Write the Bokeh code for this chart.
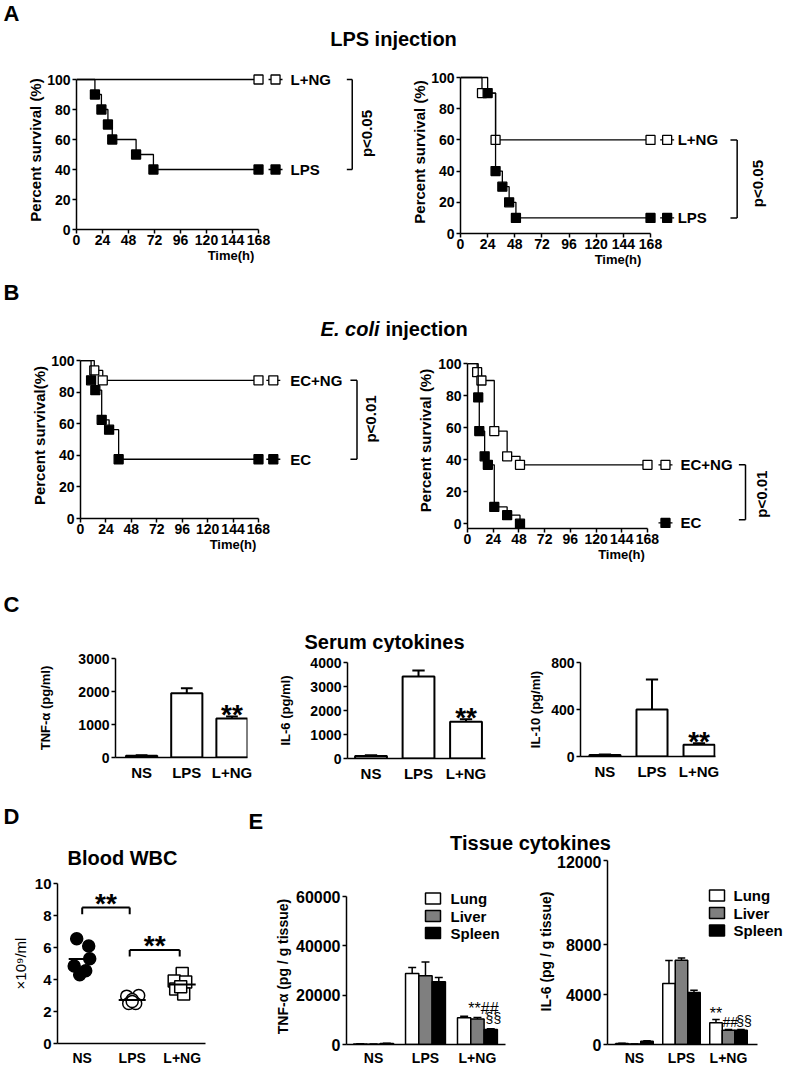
import numpy as np
from bokeh.plotting import figure
from bokeh.models import Range1d, FixedTicker
from bokeh.layouts import column, row
from bokeh.core.properties import value
from bokeh.embed import file_html
from bokeh.resources import INLINE

F = "Liberation Sans"

# ---------------- data ----------------
time_ticks = [0, 24, 48, 72, 96, 120, 144, 168]
surv_ticks = [0, 20, 40, 60, 80, 100]

# A: LPS injection, experiment 1
a1_ng_t = [0, 168]
a1_ng_s = [100, 100]
a1_lps_t = [0, 17, 23, 29, 33, 55, 71, 168]
a1_lps_s = [100, 90, 80, 70, 60, 50, 40, 40]
# A: LPS injection, experiment 2
a2_ng_t = [0, 19, 31, 168]
a2_ng_s = [100, 90, 60, 60]
a2_lps_t = [0, 24, 31, 37, 43, 49, 168]
a2_lps_s = [100, 90, 40, 30, 20, 10, 10]
# B: E. coli injection, experiment 1
b1_ng_t = [0, 13, 21, 168]
b1_ng_s = [100, 93.75, 87.5, 87.5]
b1_ec_t = [0, 10, 14, 20, 27, 36, 168]
b1_ec_s = [100, 87.5, 81.25, 62.5, 56.25, 37.5, 37.5]
# B: E. coli injection, experiment 2
b2_ng_t = [0, 9, 13, 25, 37, 49, 168]
b2_ng_s = [100, 94.7, 89.5, 57.9, 42.1, 36.8, 36.8]
b2_ec_t = [0, 10, 11, 16, 19, 25, 37, 49]
b2_ec_s = [100, 78.9, 57.9, 42.1, 36.8, 10.5, 5.3, 0]

# C: serum cytokines
groups = ["NS", "LPS", "L+NG"]
tnf_mean = [50, 1950, 1180]
tnf_err = [15, 150, 60]
il6_mean = [100, 3420, 1530]
il6_err = [40, 250, 110]
il10_mean = [12, 400, 100]
il10_err = [6, 255, 12]

# D: blood WBC (x10^9/ml) and horizontal jitter of the dots
wbc_ns = [6.55, 6.1, 5.3, 4.85, 4.55, 4.3]
wbc_lps = [2.96, 3.0, 2.75, 2.5, 2.5, 2.62]
wbc_lng = [4.37, 3.9, 3.85, 3.4, 3.1, 3.55]
jit_ns = [-0.11, 0.13, 0.15, -0.16, 0.07, -0.05]
jit_lps = [-0.11, 0.13, 0.0, -0.07, 0.07, 0.0]
jit_lng = [0.0, -0.16, 0.07, -0.13, 0.03, -0.03]

# E: tissue cytokines (NS, LPS, L+NG)
tissues = ["Lung", "Liver", "Spleen"]
tissue_colors = ["white", "#7f7f7f", "black"]
tnf_lung = [200, 28800, 10800]
tnf_lung_err = [60, 2400, 700]
tnf_liver = [150, 27850, 10300]
tnf_liver_err = [50, 5600, 600]
tnf_spleen = [400, 25400, 6100]
tnf_spleen_err = [80, 1800, 300]
il6_lung = [80, 4880, 1750]
il6_lung_err = [30, 1850, 250]
il6_liver = [40, 6750, 1150]
il6_liver_err = [10, 180, 60]
il6_spleen = [260, 4160, 1150]
il6_spleen_err = [40, 190, 60]


# ---------------- helpers ----------------
def txt(p, x, y, s, size, style="bold", align="left", baseline="middle", angle=0.0, font=F):
    p.text(x=[x], y=[y], text=[s], text_font=value(font), text_font_size=size,
           text_font_style=style, text_align=align, text_baseline=baseline,
           angle=angle, text_color="black")


def W(p):
    # wrap each plot on its own so that sibling frames are not aligned
    return column(p)


def header(w, h, items):
    p = figure(width=w, height=h, x_range=Range1d(0, w), y_range=Range1d(h, 0),
               x_axis_type=None, y_axis_type=None, output_backend="svg",
               toolbar_location=None, min_border=0)
    p.outline_line_color = None
    for it in items:
        x, y, s, size = it[:4]
        style = it[4] if len(it) > 4 else "bold"
        align = it[5] if len(it) > 5 else "left"
        txt(p, x, y, s, size, style, align)
    return p


def mkfig(w, h, xr, yr, brd):
    l, r, t, b = brd
    p = figure(width=w, height=h, x_range=Range1d(*xr), y_range=Range1d(*yr),
               output_backend="svg", toolbar_location=None,
               min_border_left=l, min_border_right=r, min_border_top=t, min_border_bottom=b)
    p.grid.visible = False
    p.outline_line_color = None
    for ax in p.axis:
        ax.axis_line_width = 1.5
        ax.axis_line_color = "black"
        ax.major_tick_line_width = 1.5
        ax.major_tick_line_color = "black"
        ax.major_tick_out = 4
        ax.major_tick_in = 0
        ax.minor_tick_line_color = None
        ax.major_label_standoff = 2
        ax.major_label_text_font = F
        ax.major_label_text_font_style = "bold"
        ax.major_label_text_color = "black"
        ax.axis_label_text_font = F
        ax.axis_label_text_font_style = "bold"
        ax.axis_label_text_color = "black"
    return p


def survival(w, h, brd, xr, yr, ng, bad, ng_label, bad_label, ylab, ystand,
             leg_x, txt_x, brk_x, brk_tick, brk_adj, p_xy, p_txt, ybounds=(0, 100), leg_min=None):
    p = mkfig(w, h, xr, yr, brd)
    fw = w - brd[0] - brd[1]
    sx = fw / (xr[1] - xr[0])
    p.xaxis.ticker = FixedTicker(ticks=time_ticks)
    p.yaxis.ticker = FixedTicker(ticks=surv_ticks)
    p.xaxis.bounds = (0, 168)
    p.yaxis.bounds = ybounds
    p.xaxis.major_label_text_font_size = "14px"
    p.yaxis.major_label_text_font_size = "14px"
    p.xaxis.major_label_standoff = 1
    p.yaxis.axis_label = ylab
    p.yaxis.axis_label_text_font_size = "15px"
    p.yaxis.axis_label_standoff = ystand
    p.xaxis.axis_label = "Time(h)"
    p.xaxis.axis_label_text_font_size = "13px"
    p.xaxis.axis_label_standoff = 0
    half = 7 / sx
    for (tt, ss), filled, lab in [(ng, False, ng_label), (bad, True, bad_label)]:
        fill = "black" if filled else "white"
        p.step(tt, ss, mode="after", line_color="black", line_width=1.3)
        p.scatter(tt[1:], ss[1:], marker="square", size=9, fill_color=fill,
                  line_color="black", line_width=1.3)
        yl = ss[-1] if leg_min is None else max(ss[-1], leg_min)
        p.segment(x0=[leg_x - half], y0=[yl], x1=[leg_x + half], y1=[yl],
                  line_color="black", line_width=1.3)
        p.scatter([leg_x], [yl], marker="square", size=9, fill_color=fill,
                  line_color="black", line_width=1.3)
        txt(p, txt_x, yl, lab, "15px")
    ytop = ng[1][-1] + brk_adj[0]
    ybot = bad[1][-1] + brk_adj[1]
    p.segment(x0=[brk_x, brk_x - brk_tick, brk_x - brk_tick], y0=[ytop, ytop, ybot],
              x1=[brk_x, brk_x, brk_x], y1=[ybot, ytop, ybot], line_color="black", line_width=1.5)
    txt(p, p_xy[0], p_xy[1], p_txt, "15px", align="center", angle=np.pi / 2)
    return p


def cat_axis(p, labels, size="15px", standoff=6, ticks=(0, 1, 2)):
    p.xaxis.ticker = FixedTicker(ticks=list(ticks))
    p.xaxis.major_label_overrides = {i: s for i, s in zip(ticks, labels)}
    p.xaxis.major_tick_line_color = None
    p.xaxis.major_tick_out = 0
    p.xaxis.major_label_standoff = standoff
    p.xaxis.major_label_text_font_size = size


def cyto(w, h, brd, xr, ymax, yticks, means, errs, ylab, ystand, bw):
    p = mkfig(w, h, xr, (0, ymax), brd)
    fh = h - brd[2] - brd[3]
    sy = fh / ymax
    cat_axis(p, groups)
    p.yaxis.ticker = FixedTicker(ticks=yticks)
    p.yaxis.major_label_text_font_size = "14px"
    p.yaxis.axis_label = ylab
    p.yaxis.axis_label_text_font_size = "13px"
    p.yaxis.axis_label_standoff = ystand
    x = np.arange(len(groups))
    m = np.array(means, dtype=float)
    caps = m + np.array(errs, dtype=float)
    p.vbar(x=x, top=m, bottom=0, width=bw, fill_color="white", line_color="black", line_width=2)
    p.segment(x0=x, y0=m, x1=x, y1=caps, line_color="black", line_width=2)
    cw = 0.13
    p.segment(x0=x - cw, y0=caps, x1=x + cw, y1=caps, line_color="black", line_width=2)
    txt(p, 2, caps[2] + 2 / sy, "**", "28px", align="center")
    return p


def tissue(w, h, brd, xr, yr, yticks, overrides, ybounds, xbounds, data, errs, ylab, ystand,
           bw, legend_px, notes, page_left, page_top):
    p = mkfig(w, h, xr, yr, brd)
    fw = w - brd[0] - brd[1]
    fh = h - brd[2] - brd[3]
    sx = fw / (xr[1] - xr[0])
    sy = fh / (yr[1] - yr[0])
    f_left = page_left + brd[0]
    f_bot = page_top + h - brd[3]
    cat_axis(p, groups, size="14px", standoff=5)
    p.xaxis.bounds = xbounds
    p.yaxis.ticker = FixedTicker(ticks=yticks)
    if overrides:
        p.yaxis.major_label_overrides = overrides
    p.yaxis.bounds = ybounds
    p.yaxis.major_label_text_font_size = "16px"
    p.yaxis.axis_label = ylab
    p.yaxis.axis_label_text_font_size = "14px"
    p.yaxis.axis_label_standoff = ystand
    x = np.arange(3)
    caps_all = []
    for k, (vals, ee, col) in enumerate(zip(data, errs, tissue_colors)):
        xs = x + (k - 1) * bw
        v = np.array(vals, dtype=float)
        caps = v + np.array(ee, dtype=float)
        p.vbar(x=xs, top=v, bottom=0, width=bw, fill_color=col, line_color="black", line_width=1.5)
        p.segment(x0=xs, y0=v, x1=xs, y1=caps, line_color="black", line_width=1.5)
        p.segment(x0=xs - 0.3 * bw, y0=caps, x1=xs + 0.3 * bw, y1=caps, line_color="black", line_width=1.5)
        caps_all.append(caps)
    # legend swatches + labels (positions given in page pixels)
    sq_x, lab_x, rows_y = legend_px
    for name, col, py in zip(tissues, tissue_colors, rows_y):
        dx = xr[0] + (sq_x - f_left) / sx
        dy = yr[0] + (f_bot - py) / sy
        p.rect(x=[dx], y=[dy], width=15, height=11, width_units="screen", height_units="screen",
               fill_color=col, line_color="black", line_width=1.5)
        txt(p, xr[0] + (lab_x - f_left) / sx, dy, name, "15px")
    for (k, dx, px, s, size) in notes:
        txt(p, 2 + dx * bw, caps_all[k][2] + px / sy, s, size, style="normal", align="center")
    return p


# ---------------- headers ----------------
hdrA = header(787, 60, [(3, 12.5, "A", "22px"), (393, 38, "LPS injection", "20px", "bold", "center")])
hdrB = header(787, 73, [(3, 20, "B", "22px"),
                        (379, 56, "E. coli", "20px", "bold italic", "right"),
                        (385, 56, "injection", "20px", "bold", "left")])
hdrC = header(787, 88, [(3, 40, "C", "22px"), (384, 77, "Serum cytokines", "20px", "bold", "center")])
hdrD = header(240, 80, [(3, 26, "D", "22px"), (122, 67, "Blood WBC", "20px", "bold", "center")])
hdrE = header(547, 65, [(8, 31, "E", "22px"), (290, 52, "Tissue cytokines", "20px", "bold", "center")])

# ---------------- survival panels ----------------
A1 = survival(390, 212, (76, 5, 10, 43), (0, 285.2), (0, 106), (a1_ng_t, a1_ng_s), (a1_lps_t, a1_lps_s),
              "L+NG", "LPS", "Percent survival (%)", 0, 183.7, 197.5, 254.5, 5, (0, 0), (268, 64), "p<0.05")
A2 = survival(397, 212, (70, 12, 10, 39), (0, 278.5), (0, 104.5), (a2_ng_t, a2_ng_s), (a2_lps_t, a2_lps_s),
              "L+NG", "LPS", "Percent survival (%)", 0, 182.7, 192, 244.6, 5.9, (0, 0), (262.3, 32), "p<0.05")
B1 = survival(390, 219, (80, 5, 7, 46), (0, 287.9), (0, 105.1), (b1_ng_t, b1_ng_s), (b1_ec_t, b1_ec_s),
              "EC+NG", "EC", "Percent survival(%)", 0, 182, 198, 261, 6.2, (0, 0), (273.7, 63), "p<0.01")
B2 = survival(397, 219, (77, 12, 7, 36), (0, 287.5), (-3, 107), (b2_ng_t, b2_ng_s), (b2_ec_t, b2_ec_s),
              "EC+NG", "EC", "Percent survival (%)", 1, 184.8, 198.8, 259.5, 6.2, (0, 2.5), (274.7, 18.5),
              "p<0.01", ybounds=(-3, 100), leg_min=0.5)

# ---------------- C ----------------
C1 = cyto(262, 138, (115, 15, 6, 33), (-0.578, 2.344), 3000, [0, 1000, 2000, 3000],
          tnf_mean, tnf_err, "TNF-α (pg/ml)", 22, 0.69)
C2 = cyto(238, 138, (85, 15, 10, 32), (-0.495, 2.41), 4000, [0, 1000, 2000, 3000, 4000],
          il6_mean, il6_err, "IL-6 (pg/ml)", 14, 0.67)
C3 = cyto(287, 138, (80, 72, 10, 34), (-0.52, 2.35), 800, [0, 400, 800],
          il10_mean, il10_err, "IL-10 (pg/ml)", 5, 0.66)

# ---------------- D ----------------
D = mkfig(240, 198, (-0.494, 2.466), (0, 10), (57, 35, 13, 25))
cat_axis(D, groups, size="14px", standoff=6)
D.yaxis.ticker = FixedTicker(ticks=[0, 2, 4, 6, 8, 10])
D.yaxis.major_label_text_font_size = "15px"
D.yaxis.axis_label = "×10⁹/ml"
D.yaxis.axis_label_text_font_size = "15px"
D.yaxis.axis_label_text_font_style = "normal"
D.yaxis.axis_label_standoff = 3
for k, (vals, jit, mk, fill) in enumerate([(wbc_ns, jit_ns, "circle", "black"),
                                           (wbc_lps, jit_lps, "circle", "white"),
                                           (wbc_lng, jit_lng, "square", "white")]):
    xs = k + np.array(jit)
    D.scatter(xs, vals, marker=mk, size=12, fill_color=fill, line_color="black", line_width=1.5)
    mval = float(np.mean(vals))
    D.segment(x0=[k - 0.27], y0=[mval], x1=[k + 0.27], y1=[mval], line_color="black", line_width=2)
for (xa, xb, yb) in [(0, 0.95, 8.5), (0.95, 1.95, 5.85)]:
    D.segment(x0=[xa, xa, xb], y0=[yb, yb - 0.42, yb - 0.42], x1=[xb, xa, xb], y1=[yb, yb, yb],
              line_color="black", line_width=2)
    txt(D, (xa + xb) / 2, yb + 0.27, "**", "28px", align="center")

# ---------------- E ----------------
E1 = tissue(270, 213, (106, 5, 33, 24), (-0.52, 2.54), (0, 60000 * 156 / 148), [0, 20000, 40000, 60000],
            None, (0, 60000), (-0.52, 2.54),
            [tnf_lung, tnf_liver, tnf_spleen], [tnf_lung_err, tnf_liver_err, tnf_spleen_err],
            "TNF-α (pg / g tissue)", 2, 0.256, (432.5, 450, [898, 915.5, 932.5]),
            [(0, 0.45, 7.6, "**##", "16px"), (2, 1.2, 11, "§§", "14px")], 240, 855)
E2 = tissue(277, 213, (97, 2, 3, 24), (-0.574, 3.213), (0, 14880), [0, 4000, 8000, 14720],
            {14720: "12000"}, (0, 14720), (-0.574, 2.617),
            [il6_lung, il6_liver, il6_spleen], [il6_lung_err, il6_liver_err, il6_spleen_err],
            "IL-6 (pg / g tissue)", 0, 0.266, (716.5, 733, [895, 912.5, 930]),
            [(0, -1.0, 6, "**", "16px"), (1, 0.15, 7, "##", "14px"), (2, 1.25, 8, "§§", "14px")], 510, 855)

layout = column(
    W(hdrA),
    row(W(A1), W(A2)),
    W(hdrB),
    row(W(B1), W(B2)),
    W(hdrC),
    row(W(C1), W(C2), W(C3)),
    row(column(W(hdrD), W(D)), column(W(hdrE), row(W(E1), W(E2)))),
)

open("out.html", "w").write(file_html(layout, INLINE))
